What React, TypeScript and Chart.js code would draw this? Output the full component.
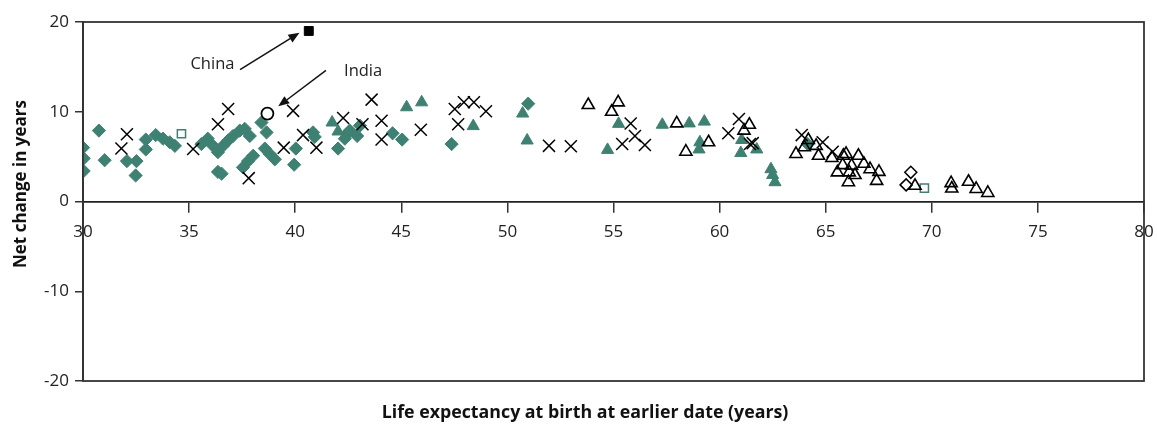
import React, { useEffect, useRef } from "react";
import { Chart, registerables } from "chart.js";

Chart.register(...registerables);

const TEAL = "#3E8173";
const INK = "#222222";
const FONT = "'Open Sans', 'Noto Sans', sans-serif";

// x = life expectancy at earlier date, y = net change in years
const tealDiamonds: [number, number][] = [
  [30.0, 6.0], [30.03, 4.8], [30.03, 3.4], [30.75, 7.9], [31.02, 4.6], [32.07, 4.5],
  [32.52, 4.5], [32.48, 2.9], [32.96, 6.9], [32.96, 5.8], [33.43, 7.4], [33.77, 7.0],
  [34.09, 6.6], [34.33, 6.2], [35.58, 6.4], [35.88, 7.0], [36.13, 6.2], [36.36, 5.5],
  [36.6, 6.2], [36.84, 6.8], [37.07, 7.3], [37.39, 7.9], [37.62, 8.1], [37.86, 7.3],
  [36.36, 3.3], [36.53, 3.1], [37.54, 3.8], [37.78, 4.5], [38.02, 5.1], [38.41, 8.8],
  [38.65, 7.7], [38.57, 5.9], [38.8, 5.3], [39.04, 4.7], [40.03, 5.9], [39.95, 4.1],
  [40.84, 7.7], [40.92, 7.2], [42.02, 5.9], [42.42, 7.5], [42.57, 7.9], [42.34, 7.0],
  [42.92, 7.3], [43.05, 8.45], [44.59, 7.6], [45.04, 6.9], [47.37, 6.4], [50.98, 10.9],
  [64.15, 6.4],
];

const crosses: [number, number][] = [
  [31.81, 5.9], [32.07, 7.5], [35.19, 5.85], [36.36, 8.6], [36.84, 10.3], [37.81, 2.6],
  [39.46, 6.0], [39.9, 10.1], [40.37, 7.4], [41.0, 6.0], [42.26, 9.3], [43.17, 8.6],
  [43.6, 11.35], [44.07, 9.0], [44.07, 6.9], [45.92, 8.0], [47.52, 10.3], [47.68, 8.6],
  [47.95, 11.05], [48.42, 11.05], [48.99, 10.05], [51.96, 6.2], [52.99, 6.15], [55.81, 8.7],
  [56.01, 7.3], [55.41, 6.4], [56.48, 6.3], [60.91, 9.2], [60.41, 7.6], [61.43, 6.4],
  [61.56, 6.5], [63.87, 7.4], [64.86, 6.6], [65.33, 5.55],
];

const tealTriangles: [number, number][] = [
  [41.74, 8.8], [42.02, 7.8], [45.25, 10.5], [45.96, 11.05], [48.39, 8.4], [50.72, 9.8],
  [50.93, 6.8], [54.72, 5.75], [55.24, 8.65], [57.3, 8.55], [58.57, 8.7], [59.28, 8.9],
  [59.07, 6.6], [59.03, 5.8], [61.04, 6.85], [61.0, 5.4], [61.75, 5.8], [62.42, 3.6],
  [62.5, 2.95], [62.61, 2.15],
];

const openTriangles: [number, number][] = [
  [53.81, 10.75], [55.22, 11.05], [54.91, 10.0], [57.98, 8.7], [58.41, 5.55], [59.48, 6.6],
  [61.15, 7.9], [61.4, 8.55], [63.6, 5.3], [64.18, 6.85], [63.99, 6.05], [64.55, 6.2],
  [64.66, 5.1], [65.29, 4.85], [65.83, 5.1], [65.96, 5.3], [65.55, 3.25], [65.8, 4.05],
  [66.22, 4.0], [66.11, 3.25], [66.38, 2.95], [66.07, 2.15], [66.54, 5.1], [66.8, 4.2],
  [67.09, 3.6], [67.51, 3.3], [67.4, 2.3], [69.21, 1.75], [70.91, 2.05], [70.94, 1.45],
  [71.73, 2.2], [72.09, 1.4], [72.64, 0.95],
];

const openDiamonds: [number, number][] = [[69.01, 3.25], [68.79, 1.85]];
const tealOpenSquares: [number, number][] = [[34.64, 7.55], [69.65, 1.5]];
const china: [number, number][] = [[40.64, 19.0]];
const india: [number, number][] = [[38.69, 9.8]];

const xTicks = [30, 35, 40, 45, 50, 55, 60, 65, 70, 75, 80];
const yTicks = [-20, -10, 0, 10, 20];

const xTitle = "Life expectancy at birth at earlier date (years)";
const yTitle = "Net change in years";

// annotation: label position, arrow start, arrow end (data units)
const chinaNote = { text: "China", label: [36.1, 15.3], from: [37.4, 14.7], to: [40.2, 18.8] };
const indiaNote = { text: "India", label: [43.2, 14.5], from: [41.45, 14.6], to: [39.2, 10.6] };

const toPts = (arr: [number, number][]) => arr.map(([x, y]) => ({ x, y }));

export default function App() {
  const ref = useRef<HTMLCanvasElement | null>(null);

  useEffect(() => {
    const canvas = ref.current;
    if (!canvas) return;

    const framePlugin = {
      id: "frame",
      afterDraw(chart: any) {
        const { ctx, chartArea } = chart;
        const { left, right, top, bottom } = chartArea;
        ctx.save();
        ctx.strokeStyle = "#333333";
        ctx.lineWidth = 1.8;
        ctx.strokeRect(left, top, right - left, bottom - top);
        ctx.restore();
      },
    };

    const titlesPlugin = {
      id: "titles",
      afterDraw(chart: any) {
        const { ctx } = chart;
        ctx.save();
        ctx.fillStyle = "#111111";
        ctx.textAlign = "center";
        ctx.textBaseline = "middle";
        ctx.font = `bold 17.8px ${FONT}`;
        ctx.fillText(xTitle, 585, 413);
        ctx.font = `bold 17px ${FONT}`;
        ctx.translate(21, 184);
        ctx.rotate(-Math.PI / 2);
        ctx.fillText(yTitle, 0, 0);
        ctx.restore();
      },
    };

    const notesPlugin = {
      id: "notes",
      afterDatasetsDraw(chart: any) {
        const { ctx, scales } = chart;
        const sx = scales.x, sy = scales.y;
        ctx.save();
        for (const n of [chinaNote, indiaNote]) {
          ctx.fillStyle = INK;
          ctx.font = `16.5px ${FONT}`;
          ctx.textAlign = "center";
          ctx.textBaseline = "middle";
          ctx.fillText(n.text, sx.getPixelForValue(n.label[0]), sy.getPixelForValue(n.label[1]));
          const x1 = sx.getPixelForValue(n.from[0]);
          const y1 = sy.getPixelForValue(n.from[1]);
          const x2 = sx.getPixelForValue(n.to[0]);
          const y2 = sy.getPixelForValue(n.to[1]);
          const ang = Math.atan2(y2 - y1, x2 - x1);
          const head = 11;
          const bx = x2 - head * Math.cos(ang);
          const by = y2 - head * Math.sin(ang);
          ctx.strokeStyle = "#111";
          ctx.lineWidth = 1.5;
          ctx.beginPath();
          ctx.moveTo(x1, y1);
          ctx.lineTo(bx, by);
          ctx.stroke();
          ctx.fillStyle = "#111";
          ctx.beginPath();
          ctx.moveTo(x2, y2);
          ctx.lineTo(bx + 4.5 * Math.sin(ang), by - 4.5 * Math.cos(ang));
          ctx.lineTo(bx - 4.5 * Math.sin(ang), by + 4.5 * Math.cos(ang));
          ctx.closePath();
          ctx.fill();
        }
        ctx.restore();
      },
    };

    const chart = new Chart(canvas, {
      type: "scatter",
      data: {
        datasets: [
          {
            label: "China",
            data: toPts(china),
            pointStyle: "rect",
            pointRadius: 6.3,
            backgroundColor: "#000",
            borderColor: "#000",
            borderWidth: 1,
          },
          {
            label: "India",
            data: toPts(india),
            pointStyle: "circle",
            pointRadius: 6,
            backgroundColor: "#fff",
            borderColor: "#000",
            borderWidth: 1.8,
          },
          {
            label: "crosses",
            data: toPts(crosses),
            pointStyle: "crossRot",
            pointRadius: 8.5,
            backgroundColor: "#000",
            borderColor: "#000",
            borderWidth: 1.5,
          },
          {
            label: "openTriangles",
            data: toPts(openTriangles),
            pointStyle: "triangle",
            pointRadius: 7,
            backgroundColor: "rgba(255,255,255,0)",
            borderColor: "#000",
            borderWidth: 1.6,
          },
          {
            label: "openDiamonds",
            data: toPts(openDiamonds),
            pointStyle: "rectRot",
            pointRadius: 6,
            backgroundColor: "rgba(255,255,255,0)",
            borderColor: "#000",
            borderWidth: 1.5,
          },
          {
            label: "tealOpenSquares",
            data: toPts(tealOpenSquares),
            pointStyle: "rect",
            pointRadius: 5.8,
            backgroundColor: "rgba(255,255,255,0)",
            borderColor: TEAL,
            borderWidth: 1.5,
          },
          {
            label: "tealTriangles",
            data: toPts(tealTriangles),
            pointStyle: "triangle",
            pointRadius: 7,
            backgroundColor: TEAL,
            borderColor: TEAL,
            borderWidth: 1,
          },
          {
            label: "tealDiamonds",
            data: toPts(tealDiamonds),
            pointStyle: "rectRot",
            pointRadius: 6.6,
            backgroundColor: TEAL,
            borderColor: TEAL,
            borderWidth: 1,
          },
        ],
      },
      options: {
        responsive: false,
        animation: false,
        events: [],
        layout: { padding: { left: 0, right: 13, top: 22, bottom: 45 } },
        plugins: {
          legend: { display: false },
          tooltip: { enabled: false },
        },
        scales: {
          x: {
            type: "linear",
            position: { y: 0 } as any,
            min: 30,
            max: 80,
            afterBuildTicks: (s: any) => {
              s.ticks = xTicks.map((v) => ({ value: v }));
            },
            afterFit: (s: any) => {
              s.paddingLeft = 0;
              s.paddingRight = 0;
            },
            grid: { drawOnChartArea: false, drawTicks: true, tickLength: 10, color: "#333", lineWidth: 1.5 },
            border: { display: true, color: "#222", width: 1.8 },
            ticks: { color: INK, font: { family: FONT, size: 17 }, padding: 10, maxRotation: 0 },
          },
          y: {
            type: "linear",
            position: "left",
            min: -20,
            max: 20,
            afterBuildTicks: (s: any) => {
              s.ticks = yTicks.map((v) => ({ value: v }));
            },
            afterFit: (s: any) => {
              s.width = 83;
              s.paddingTop = 0;
              s.paddingBottom = 0;
            },
            grid: { drawOnChartArea: false, drawTicks: true, tickLength: 8, color: "#333", lineWidth: 1.5 },
            border: { display: true, color: "#222", width: 1.8 },
            ticks: { color: INK, font: { family: FONT, size: 17 }, padding: 6 },
          },
        },
      },
      plugins: [framePlugin, notesPlugin, titlesPlugin],
    } as any);

    return () => chart.destroy();
  }, []);

  return (
    <div style={{ position: "absolute", left: 0, top: 0, width: 1157, height: 426, background: "#fff" }}>
      <canvas ref={ref} width={1157} height={426} />
    </div>
  );
}
